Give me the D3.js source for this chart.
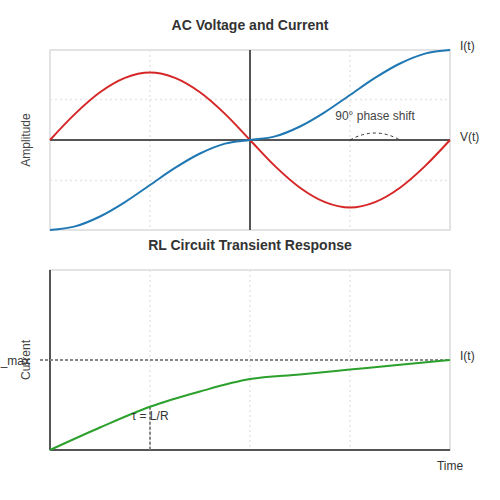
<!DOCTYPE html>
<html>
<head>
<meta charset="utf-8">
<script src="https://cdn.jsdelivr.net/npm/d3@7"></script>
<style>
  body { margin: 0; background: #fff; }
  text { font-family: "Liberation Sans", Arial, sans-serif; }
</style>
</head>
<body>
<svg id="chart" width="500" height="500"></svg>
<script>
// AC panel: samples every 1/8 of a period step (x in quarter-periods 0..4)
const acX = [0, 0.25, 0.5, 0.75, 1, 1.25, 1.5, 1.75, 2, 2.25, 2.5, 2.75, 3, 3.25, 3.5, 3.75, 4];
const voltage = [0, 0.29, 0.53, 0.69, 0.75, 0.69, 0.53, 0.29, 0, -0.29, -0.53, -0.69, -0.75, -0.69, -0.53, -0.29, 0];
const current = [-1, -0.96, -0.85, -0.69, -0.5, -0.31, -0.15, -0.04, 0, 0.04, 0.15, 0.31, 0.5, 0.69, 0.85, 0.96, 1];
const acGridX = [1, 3];
const acGridY = [-0.45, 0.45];

// RL panel
const rlX = [0, 0.5, 1, 1.5, 2, 2.5, 3, 3.5, 4];
const rlCurrent = [0, 0.125, 0.24, 0.325, 0.394, 0.42, 0.447, 0.474, 0.5];
const rlGridX = [1, 2, 3];
const iMax = 0.5;
const tau = 1;

const svg = d3.select('#chart');
const left = 50, right = 450;

const axisColor = '#555';
const frameColor = '#e3e3e3';
const gridColor = '#e6e6e6';
const textColor = '#333';

function frame(g, top, bottom) {
  g.append('rect')
    .attr('x', left)
    .attr('y', top)
    .attr('width', right - left)
    .attr('height', bottom - top)
    .attr('fill', 'none')
    .attr('stroke', frameColor)
    .attr('stroke-width', 2);
}

function gridV(g, x, vals, top, bottom) {
  g.selectAll(null)
    .data(vals)
    .enter()
    .append('line')
    .attr('x1', d => x(d)).attr('x2', d => x(d))
    .attr('y1', top).attr('y2', bottom)
    .attr('stroke', gridColor)
    .attr('stroke-width', 1.5)
    .attr('stroke-dasharray', '2,3');
}

function gridH(g, y, vals) {
  g.selectAll(null)
    .data(vals)
    .enter()
    .append('line')
    .attr('x1', left).attr('x2', right)
    .attr('y1', d => y(d)).attr('y2', d => y(d))
    .attr('stroke', gridColor)
    .attr('stroke-width', 1.5)
    .attr('stroke-dasharray', '2,3');
}

function label(g, x, y, txt, opts) {
  const o = opts || {};
  const t = g.append('text')
    .attr('x', x)
    .attr('y', y)
    .attr('font-size', o.size || 12)
    .attr('font-weight', o.weight || 'normal')
    .attr('fill', o.fill || textColor)
    .attr('text-anchor', o.anchor || 'start')
    .text(txt);
  if (o.rotate) {
    t.attr('transform', 'rotate(-90,' + x + ',' + y + ')');
  }
  return t;
}

// ---- AC panel ----
const acTop = 50, acBottom = 230;
const ac = svg.append('g');
const xAc = d3.scaleLinear().domain([0, 4]).range([left, right]);
const yAc = d3.scaleLinear().domain([-1, 1]).range([acBottom, acTop]);

frame(ac, acTop, acBottom);
gridV(ac, xAc, acGridX, acTop, acBottom);
gridH(ac, yAc, acGridY);

ac.append('line')
  .attr('x1', left).attr('x2', right)
  .attr('y1', yAc(0)).attr('y2', yAc(0))
  .attr('stroke', axisColor).attr('stroke-width', 2);
ac.append('line')
  .attr('x1', xAc(2)).attr('x2', xAc(2))
  .attr('y1', acTop).attr('y2', acBottom)
  .attr('stroke', axisColor).attr('stroke-width', 2);

const acLine = d3.line()
  .x((d, i) => xAc(acX[i]))
  .y(d => yAc(d))
  .curve(d3.curveMonotoneX);

ac.append('path')
  .datum(voltage)
  .attr('d', acLine)
  .attr('fill', 'none')
  .attr('stroke', '#d62728')
  .attr('stroke-width', 2);

ac.append('path')
  .datum(current)
  .attr('d', acLine)
  .attr('fill', 'none')
  .attr('stroke', '#1f77b4')
  .attr('stroke-width', 2);

// phase shift arc
const arcPath = d3.path();
arcPath.moveTo(xAc(3), yAc(0));
arcPath.quadraticCurveTo(xAc(3.25), yAc(0) - 14, xAc(3.5), yAc(0));
ac.append('path')
  .attr('d', arcPath.toString())
  .attr('fill', 'none')
  .attr('stroke', '#333')
  .attr('stroke-width', 1)
  .attr('stroke-dasharray', '3,3');

label(ac, 375, 120, '90° phase shift', { anchor: 'middle', fill: '#444' });
label(ac, 460, 50, 'I(t)');
label(ac, 460, 141, 'V(t)');
label(ac, 250, 30, 'AC Voltage and Current', { anchor: 'middle', size: 14, weight: 'bold' });
label(ac, 30, 140, 'Amplitude', { anchor: 'middle', rotate: true, fill: '#444' });

// ---- RL panel ----
const rlTop = 270, rlBottom = 450;
const rl = svg.append('g');
const xRl = d3.scaleLinear().domain([0, 4]).range([left, right]);
const yRl = d3.scaleLinear().domain([0, 1]).range([rlBottom, rlTop]);

frame(rl, rlTop, rlBottom);
gridV(rl, xRl, rlGridX, rlTop, rlBottom);

rl.append('line')
  .attr('x1', left).attr('x2', left)
  .attr('y1', rlTop).attr('y2', rlBottom)
  .attr('stroke', axisColor).attr('stroke-width', 2);
rl.append('line')
  .attr('x1', left).attr('x2', right)
  .attr('y1', rlBottom).attr('y2', rlBottom)
  .attr('stroke', axisColor).attr('stroke-width', 2);

// I_max reference
rl.append('line')
  .attr('x1', left - 10).attr('x2', right)
  .attr('y1', yRl(iMax)).attr('y2', yRl(iMax))
  .attr('stroke', '#888')
  .attr('stroke-width', 2)
  .attr('stroke-dasharray', '3,2');

// tau marker
const tauIdx = rlX.indexOf(tau);
rl.append('line')
  .attr('x1', xRl(tau)).attr('x2', xRl(tau))
  .attr('y1', yRl(rlCurrent[tauIdx])).attr('y2', rlBottom)
  .attr('stroke', '#888')
  .attr('stroke-width', 2)
  .attr('stroke-dasharray', '3,2');

const rlLine = d3.line()
  .x((d, i) => xRl(rlX[i]))
  .y(d => yRl(d))
  .curve(d3.curveMonotoneX);

rl.append('path')
  .datum(rlCurrent)
  .attr('d', rlLine)
  .attr('fill', 'none')
  .attr('stroke', '#2ca02c')
  .attr('stroke-width', 2);

label(rl, 150, 420, 'τ = L/R', { anchor: 'middle' });
label(rl, 30, yRl(iMax) + 5, 'I_max', { anchor: 'end' });
label(rl, 460, 360, 'I(t)');
label(rl, 450, 470, 'Time', { anchor: 'middle' });
label(rl, 250, 250, 'RL Circuit Transient Response', { anchor: 'middle', size: 14, weight: 'bold' });
label(rl, 30, 360, 'Current', { anchor: 'middle', rotate: true, fill: '#444' });
</script>
</body>
</html>
